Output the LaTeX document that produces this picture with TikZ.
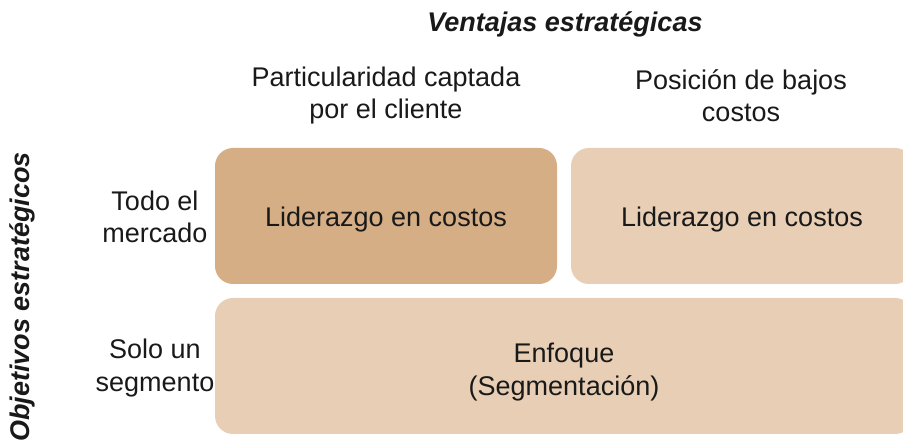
\documentclass[tikz,border=0pt]{standalone}
\usepackage{fontspec}
\setmainfont{Liberation Sans}
\definecolor{darktan}{RGB}{214,174,134}
\definecolor{lighttan}{RGB}{232,206,180}
\begin{document}
\begin{tikzpicture}[x=1pt,y=1pt,
  every node/.style={font=\fontsize{27}{32.5}\selectfont, inner sep=0pt, align=center, text=black!90},
  cell/.style={rounded corners=18pt, minimum width=342pt, minimum height=136pt, text height=26pt},
  title/.style={font=\fontsize{27}{32.5}\selectfont\bfseries\itshape}]
\useasboundingbox (0,0) rectangle (903,444);
\clip (0,0) rectangle (903,444);
\node[title] (vent) at (565,420) {Ventajas estratégicas};
\node[title, rotate=90] (obj) at (22,147) {Objetivos estratégicos};
\node (c1) at (386,348.5) {Particularidad captada\\por el cliente};
\node (c2) at (741,348.5) {Posición de bajos\\costos};
\node (r1) at (155,227) {Todo el\\mercado};
\node (r2) at (155,76) {Solo un\\segmento};
\node[cell, fill=darktan] (b1) at (386,228) {Liderazgo en costos};
\node[cell, fill=lighttan] (b2) at (742,228) {Liderazgo en costos};
\node[cell, fill=lighttan, minimum width=698pt, text height=64pt] (b3) at (564,78) {Enfoque\\(Segmentación)};
\end{tikzpicture}
\end{document}
